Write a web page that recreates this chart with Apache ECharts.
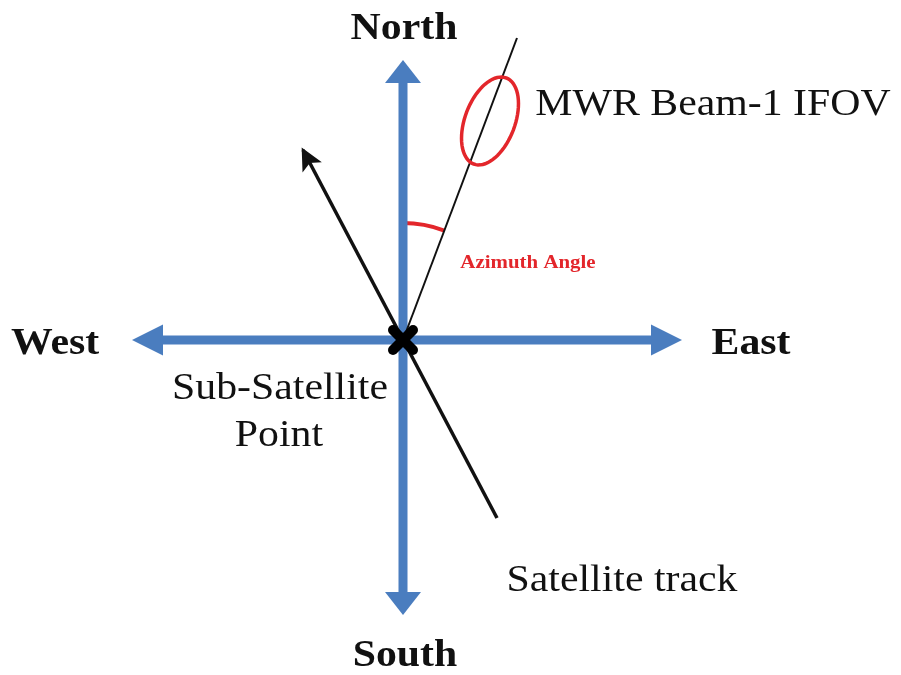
<!DOCTYPE html>
<html><head><meta charset="utf-8">
<script src="https://cdn.jsdelivr.net/npm/echarts@6/dist/echarts.min.js"></script>
<style>html,body{margin:0;padding:0;background:#fff}#c{width:901px;height:675px}</style>
</head><body><div id="c"></div>
<script>
// Diagram data (units: origin at the sub-satellite point, y up)
const compassLabels = ['North', 'South', 'West', 'East'];
const compassTips = [[0, 280], [0, -275], [-271, 0], [279, 0]];
const compassLabelAnchors = [[1, 311], [2, -316], [-348, -4], [348, -4]];
const subSatellitePoint = [0, 0];
const trackFrom = [94, -178];
const trackTo = [-100, 190];
const beamEnd = [114, 302];
const ifovCenter = [87, 219];
const ifovSemiAxes = [46, 25];
const azimuthRadius = 117;
const noteLabels = ['MWR Beam-1 IFOV', 'Sub-Satellite', 'Point', 'Satellite track', 'Azimuth Angle'];
const noteAnchors = [[310, 235], [-123, -49], [-124, -96], [219, -241], [125, 77]];

const BLUE = '#4a7dbf', RED = '#e3262b', SERIF = "'Liberation Serif','Times New Roman',serif";

function renderItem(params, api) {
  const ch = [];
  const C = api.coord(subSatellitePoint);
  // azimuth arc (under the axes)
  const B = api.coord(beamEnd);
  const beamAng = Math.atan2(B[1] - C[1], B[0] - C[0]);
  ch.push({type: 'arc', shape: {cx: C[0], cy: C[1], r: azimuthRadius, startAngle: -Math.PI / 2, endAngle: beamAng, clockwise: true},
    style: {stroke: RED, lineWidth: 4, fill: null}});
  // blue compass arrows
  compassTips.forEach((t, i) => {
    const T = api.coord(t);
    const dx = T[0] - C[0], dy = T[1] - C[1], L = Math.hypot(dx, dy);
    const d = [dx / L, dy / L], n = [-d[1], d[0]];
    const vertical = Math.abs(d[1]) > 0.5;
    const hl = vertical ? 23 : 31, hw = vertical ? 36 : 31;
    const Bs = [T[0] - d[0] * hl, T[1] - d[1] * hl];
    ch.push({type: 'line', shape: {x1: C[0], y1: C[1], x2: Bs[0] + d[0], y2: Bs[1] + d[1]}, style: {stroke: BLUE, lineWidth: 9}});
    ch.push({type: 'polygon', shape: {points: [T, [Bs[0] + n[0] * hw / 2, Bs[1] + n[1] * hw / 2], [Bs[0] - n[0] * hw / 2, Bs[1] - n[1] * hw / 2]]}, style: {fill: BLUE}});
    const A = api.coord(compassLabelAnchors[i]);
    ch.push({type: 'text', x: A[0], y: A[1], scaleX: 1.1, style: {text: compassLabels[i], font: 'bold 38px ' + SERIF, fill: '#111', align: 'center', verticalAlign: 'middle'}});
  });
  // beam line
  ch.push({type: 'line', shape: {x1: C[0], y1: C[1], x2: B[0], y2: B[1]}, style: {stroke: '#111', lineWidth: 2}});
  // IFOV ellipse
  const ec = ifovCenter;
  const bl = Math.hypot(beamEnd[0], beamEnd[1]);
  const u = [beamEnd[0] / bl, beamEnd[1] / bl], p = [-u[1], u[0]];
  const pts = [];
  for (let k = 0; k < 72; k++) {
    const a = k / 72 * Math.PI * 2;
    const x = ec[0] + u[0] * ifovSemiAxes[0] * Math.cos(a) + p[0] * ifovSemiAxes[1] * Math.sin(a);
    const y = ec[1] + u[1] * ifovSemiAxes[0] * Math.cos(a) + p[1] * ifovSemiAxes[1] * Math.sin(a);
    pts.push(api.coord([x, y]));
  }
  ch.push({type: 'polygon', shape: {points: pts}, style: {stroke: RED, lineWidth: 3.5, fill: null}});
  // satellite track
  const F = api.coord(trackFrom), P = api.coord(trackTo);
  ch.push({type: 'line', shape: {x1: F[0], y1: F[1], x2: P[0], y2: P[1]}, style: {stroke: '#111', lineWidth: 3.5}});
  const td = [P[0] - F[0], P[1] - F[1]], tl = Math.hypot(td[0], td[1]);
  const back = Math.atan2(-td[1] / tl, -td[0] / tl), bar = 19, ang = 0.45;
  ch.push({type: 'polygon', shape: {points: [
    [P[0] + bar * Math.cos(back + ang), P[1] + bar * Math.sin(back + ang)], P,
    [P[0] + bar * Math.cos(back - ang), P[1] + bar * Math.sin(back - ang)],
    [P[0] + bar * 0.7 * Math.cos(back), P[1] + bar * 0.7 * Math.sin(back)]]},
    style: {stroke: '#111', lineWidth: 2.5, fill: '#111', lineJoin: 'miter'}});
  // sub-satellite point marker
  const m = 10;
  ch.push({type: 'line', shape: {x1: C[0] - m, y1: C[1] - m, x2: C[0] + m, y2: C[1] + m}, style: {stroke: '#000', lineWidth: 10, lineCap: 'round'}});
  ch.push({type: 'line', shape: {x1: C[0] - m, y1: C[1] + m, x2: C[0] + m, y2: C[1] - m}, style: {stroke: '#000', lineWidth: 10, lineCap: 'round'}});
  // notes
  noteLabels.forEach((t, i) => {
    const A = api.coord(noteAnchors[i]);
    const az = t === 'Azimuth Angle';
    ch.push({type: 'text', x: A[0], y: A[1], scaleX: 1.1, style: {text: t,
      font: (az ? 'bold 19px ' : '38px ') + SERIF, fill: az ? RED : '#111', align: 'center', verticalAlign: 'middle'}});
  });
  return {type: 'group', children: ch};
}

const chart = echarts.init(document.getElementById('c'), null, {renderer: 'canvas'});
chart.setOption({
  animation: false,
  backgroundColor: '#fff',
  grid: {left: 0, right: 0, top: 0, bottom: 0},
  xAxis: {type: 'value', min: -403, max: 498, show: false},
  yAxis: {type: 'value', min: -335, max: 340, show: false},
  series: [{type: 'custom', renderItem: renderItem, data: [subSatellitePoint], silent: true}]
});
</script></body></html>
